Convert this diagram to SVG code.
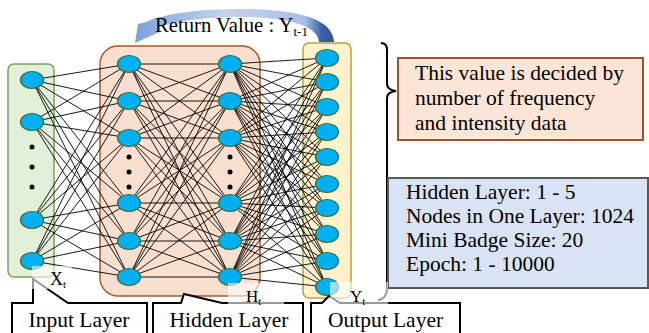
<svg xmlns="http://www.w3.org/2000/svg" width="649" height="333" viewBox="0 0 649 333">
<defs>
<linearGradient id="arrowGrad" gradientUnits="userSpaceOnUse" x1="135" y1="0" x2="335" y2="0">
<stop offset="0" stop-color="#7ea2d8"/>
<stop offset="0.45" stop-color="#c3d3ec"/>
<stop offset="0.85" stop-color="#a9bfe2"/>
<stop offset="0.93" stop-color="#3d62a8"/>
<stop offset="1" stop-color="#2f5597"/>
</linearGradient>
</defs>
<style>
.e{fill:none;stroke:#000;stroke-width:0.9}
.n{fill:#00b0f0;stroke:#3a6b35;stroke-width:1.2}
.dot{fill:#000}
.t{font-family:"Liberation Serif","Times New Roman",serif;fill:#000}
.lbl{font-size:21.5px}
.call{fill:#fff;stroke:#000;stroke-width:2}
.tb{fill:#fff;fill-opacity:0.6;stroke:none}
</style>
<rect width="649" height="333" fill="#fff"/>

<g id="input-layer-box"><rect x="8" y="64" width="46" height="213" rx="6" fill="#e2efd9" stroke="#77a35a" stroke-width="1.5"/></g>
<g id="hidden-layer-box"><rect x="100" y="46" width="160" height="250" rx="18" fill="#f8dfcf" stroke="#a9592d" stroke-width="1.5"/></g>
<g id="output-layer-box"><rect x="303" y="43" width="48" height="255" rx="6" fill="#fff2cc" stroke="#bf9f3f" stroke-width="1.5"/></g>

<g id="connectors">
<path class="e" d="M32 80L129 64M32 80L129 101M32 80L129 138M32 80L129 203M32 80L129 241M32 80L129 277M32 122L129 64M32 122L129 101M32 122L129 138M32 122L129 203M32 122L129 241M32 122L129 277M32 220L129 64M32 220L129 101M32 220L129 138M32 220L129 203M32 220L129 241M32 220L129 277M32 261L129 64M32 261L129 101M32 261L129 138M32 261L129 203M32 261L129 241M32 261L129 277"/>
<path class="e" d="M129 64L230 64M129 64L230 101M129 64L230 138M129 64L230 203M129 64L230 241M129 64L230 277M129 101L230 64M129 101L230 101M129 101L230 138M129 101L230 203M129 101L230 241M129 101L230 277M129 138L230 64M129 138L230 101M129 138L230 138M129 138L230 203M129 138L230 241M129 138L230 277M129 203L230 64M129 203L230 101M129 203L230 138M129 203L230 203M129 203L230 241M129 203L230 277M129 241L230 64M129 241L230 101M129 241L230 138M129 241L230 203M129 241L230 241M129 241L230 277M129 277L230 64M129 277L230 101M129 277L230 138M129 277L230 203M129 277L230 241M129 277L230 277"/>
<path class="e" d="M230 64L327 58M230 64L327 82M230 64L327 107M230 64L327 132M230 64L327 157M230 64L327 184M230 64L327 208M230 64L327 234M230 64L327 261M230 64L327 287M230 101L327 58M230 101L327 82M230 101L327 107M230 101L327 132M230 101L327 157M230 101L327 184M230 101L327 208M230 101L327 234M230 101L327 261M230 101L327 287M230 138L327 58M230 138L327 82M230 138L327 107M230 138L327 132M230 138L327 157M230 138L327 184M230 138L327 208M230 138L327 234M230 138L327 261M230 138L327 287M230 203L327 58M230 203L327 82M230 203L327 107M230 203L327 132M230 203L327 157M230 203L327 184M230 203L327 208M230 203L327 234M230 203L327 261M230 203L327 287M230 241L327 58M230 241L327 82M230 241L327 107M230 241L327 132M230 241L327 157M230 241L327 184M230 241L327 208M230 241L327 234M230 241L327 261M230 241L327 287M230 277L327 58M230 277L327 82M230 277L327 107M230 277L327 132M230 277L327 157M230 277L327 184M230 277L327 208M230 277L327 234M230 277L327 261M230 277L327 287"/>
</g>

<g id="input-nodes">
<ellipse class="n" cx="32" cy="80" rx="11.5" ry="8.5"/>
<ellipse class="n" cx="32" cy="122" rx="11.5" ry="8.5"/>
<circle class="dot" cx="32" cy="147" r="2.5"/>
<circle class="dot" cx="32" cy="167" r="2.5"/>
<circle class="dot" cx="32" cy="187" r="2.5"/>
<ellipse class="n" cx="32" cy="220" rx="11.5" ry="8.5"/>
<ellipse class="n" cx="32" cy="261" rx="11.5" ry="8.5"/>
</g>
<g id="hidden-nodes-1">
<ellipse class="n" cx="129" cy="64" rx="11.5" ry="8.5"/>
<ellipse class="n" cx="129" cy="101" rx="11.5" ry="8.5"/>
<ellipse class="n" cx="129" cy="138" rx="11.5" ry="8.5"/>
<circle class="dot" cx="129" cy="157" r="2.5"/>
<circle class="dot" cx="129" cy="172" r="2.5"/>
<circle class="dot" cx="129" cy="187" r="2.5"/>
<ellipse class="n" cx="129" cy="203" rx="11.5" ry="8.5"/>
<ellipse class="n" cx="129" cy="241" rx="11.5" ry="8.5"/>
<ellipse class="n" cx="129" cy="277" rx="11.5" ry="8.5"/>
</g>
<g id="hidden-nodes-2">
<ellipse class="n" cx="230" cy="64" rx="11.5" ry="8.5"/>
<ellipse class="n" cx="230" cy="101" rx="11.5" ry="8.5"/>
<ellipse class="n" cx="230" cy="138" rx="11.5" ry="8.5"/>
<circle class="dot" cx="230" cy="157" r="2.5"/>
<circle class="dot" cx="230" cy="172" r="2.5"/>
<circle class="dot" cx="230" cy="187" r="2.5"/>
<ellipse class="n" cx="230" cy="203" rx="11.5" ry="8.5"/>
<ellipse class="n" cx="230" cy="241" rx="11.5" ry="8.5"/>
<ellipse class="n" cx="230" cy="277" rx="11.5" ry="8.5"/>
</g>
<g id="output-nodes">
<ellipse class="n" cx="327" cy="58" rx="11.5" ry="8.5"/>
<ellipse class="n" cx="327" cy="82" rx="11.5" ry="8.5"/>
<ellipse class="n" cx="327" cy="107" rx="11.5" ry="8.5"/>
<ellipse class="n" cx="327" cy="132" rx="11.5" ry="8.5"/>
<ellipse class="n" cx="327" cy="157" rx="11.5" ry="8.5"/>
<ellipse class="n" cx="327" cy="184" rx="11.5" ry="8.5"/>
<ellipse class="n" cx="327" cy="208" rx="11.5" ry="8.5"/>
<ellipse class="n" cx="327" cy="234" rx="11.5" ry="8.5"/>
<ellipse class="n" cx="327" cy="261" rx="11.5" ry="8.5"/>
<ellipse class="n" cx="327" cy="287" rx="11.5" ry="8.5"/>
</g>

<g id="return-arrow">
<path d="M334 42L319 42C318 25 285 17 240 17C202 17 172 22 157 28L162 31L135 43L138 24L146 22C166 13 200 9 240 9C296 9 333 18 334 42Z" fill="url(#arrowGrad)"/>
<text class="t" x="155" y="32" font-size="20.7">Return Value : Y<tspan font-size="13" dy="4">t-1</tspan></text>
</g>

<g id="brace">
<path d="M381 43Q387 43 387 50L387 84Q387 90 396 91Q387 92 387 98L387 288Q387 299 378 300" fill="none" stroke="#000" stroke-width="2"/>
</g>

<g id="note-box">
<rect x="398" y="58" width="245" height="82" fill="#fbe5d6" stroke="#a0522d" stroke-width="2"/>
<text class="t lbl" x="415" y="80">This value is decided by</text>
<text class="t lbl" x="415" y="105">number of frequency</text>
<text class="t lbl" x="415" y="130">and intensity data</text>
</g>

<g id="params-box">
<rect x="388" y="178" width="260" height="110" fill="#dae3f3" stroke="#595959" stroke-width="2"/>
<text class="t lbl" x="406" y="199">Hidden Layer: 1 - 5</text>
<text class="t lbl" x="406" y="223">Nodes in One Layer: 1024</text>
<text class="t lbl" x="406" y="247">Mini Badge Size: 20</text>
<text class="t lbl" x="406" y="271">Epoch: 1 - 10000</text>
</g>

<g id="input-label">
<path class="call" d="M12 340V303H33L33 279L68 303H147V340"/>
<text class="t lbl" x="79" y="327" text-anchor="middle">Input Layer</text>
</g>
<g id="hidden-label">
<path class="call" d="M153 340V303H181L184 294L222 303H303V340"/>
<text class="t lbl" x="229" y="327" text-anchor="middle">Hidden Layer</text>
</g>
<g id="output-label">
<path class="call" d="M311 340V303H322L329 296L340 303H460V340"/>
<text class="t lbl" x="385.5" y="327" text-anchor="middle">Output Layer</text>
</g>

<g id="xt-label">
<rect class="tb" x="32" y="266" width="40" height="23"/>
<text class="t" x="50" y="285" font-size="18">X<tspan font-size="11" dy="3">t</tspan></text>
</g>
<g id="ht-label">
<rect class="tb" x="228" y="283" width="56" height="21"/>
<text class="t" x="246" y="302" font-size="17">H<tspan font-size="11" dy="3">t</tspan></text>
</g>
<g id="yt-label">
<rect class="tb" x="330" y="282" width="58" height="22"/>
<text class="t" x="350" y="302" font-size="17">Y<tspan font-size="11" dy="3">t</tspan></text>
</g>
</svg>
